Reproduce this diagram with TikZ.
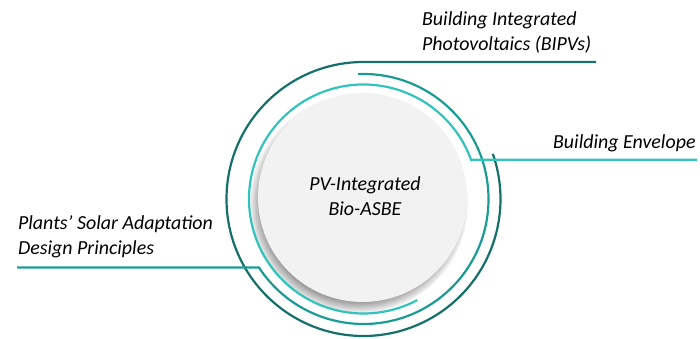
\documentclass[tikz,border=0pt]{standalone}
\usepackage{fontspec}
\setmainfont{Carlito}
\usetikzlibrary{shadows,fadings}
\definecolor{TealDark}{RGB}{21,112,106}
\definecolor{TealMid}{RGB}{26,156,148}
\definecolor{TealLight}{RGB}{50,195,189}
\definecolor{DiskGray}{RGB}{242,242,242}

\begin{document}
\begin{tikzpicture}[x=1bp, y=1bp, line width=2.2bp, font=\fontsize{20}{25}\selectfont\itshape]
\useasboundingbox (0,0) rectangle (700,338);
\coordinate (c) at (363.5,139);
\coordinate (bipv tip) at (596,276);
\coordinate (env tip) at (697,178.2);
\coordinate (plant tip) at (17,70.5);
\node[circle, minimum size=209bp, inner sep=0, fill=DiskGray,
  circular drop shadow={shadow xshift=-4bp, shadow yshift=-6bp, shadow scale=1.05, opacity=0.85, fill=black!60}] (disk) at (362.5,140.5) {};
\node[align=center] (core) at (365,142) {PV-Integrated\\Bio-ASBE};
\node[anchor=west, align=left, inner sep=0] (bipv) at (421,305.5) {Building Integrated\\Photovoltaics (BIPVs)};
\node[anchor=west, inner sep=0] (env) at (552,195) {Building Envelope};
\node[anchor=west, align=left, inner sep=0] (plant) at (17,101.5) {Plants’ Solar Adaptation\\Design Principles};
\draw[TealDark] (bipv tip) -- ([shift={(90:137)}]c) arc[start angle=90, end angle=379.2, radius=137];
\draw[TealMid] ([shift={(92.5:125)}]c) arc[start angle=92.5, end angle=-146.8, radius=125] -- (plant tip);
\draw[TealLight] (env tip) -- ([shift={(20:114.5)}]c) arc[start angle=20, end angle=298, radius=114.5];
\end{tikzpicture}
\end{document}
